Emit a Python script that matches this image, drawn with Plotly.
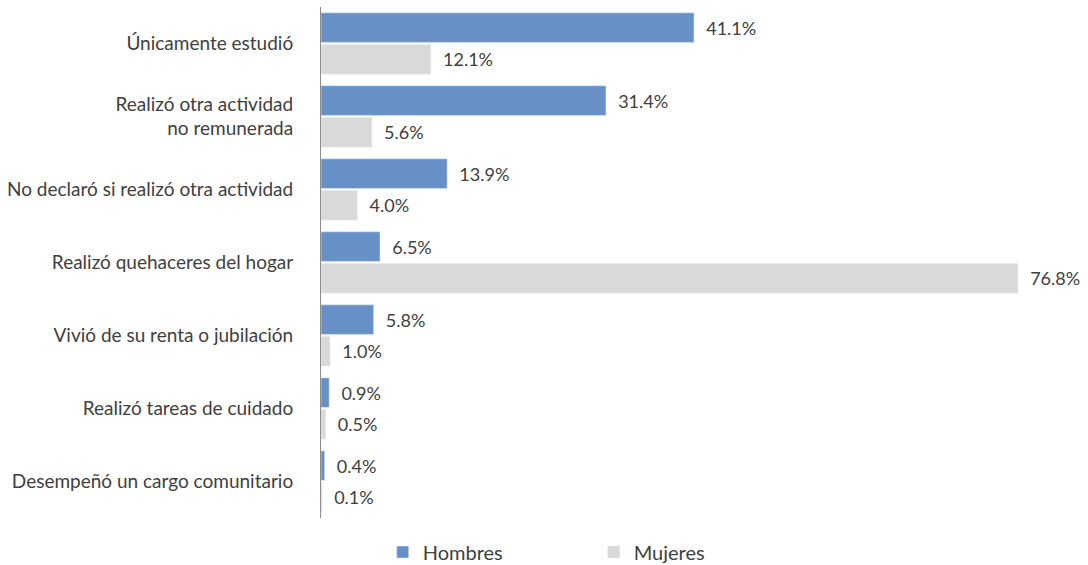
import plotly.graph_objects as go

categories = [
    "Únicamente estudió",
    "Realizó otra actividad<br>no remunerada",
    "No declaró si realizó otra actividad",
    "Realizó quehaceres del hogar",
    "Vivió de su renta o jubilación",
    "Realizó tareas de cuidado",
    "Desempeñó un cargo comunitario",
]
hombres = [41.1, 31.4, 13.9, 6.5, 5.8, 0.9, 0.4]
mujeres = [12.1, 5.6, 4.0, 76.8, 1.0, 0.5, 0.1]

FONT = "Lato"
TXT = "#404040"
pad = "\u00a0\u00a0"

fig = go.Figure()
fig.add_trace(go.Bar(
    y=categories, x=hombres, orientation="h", name="Hombres",
    marker=dict(color="#6690C6"),
    texttemplate=pad + "%{x:.1f}%", textposition="outside",
    textfont=dict(family=FONT, size=18, color=TXT), cliponaxis=False,
))
fig.add_trace(go.Bar(
    y=categories, x=mujeres, orientation="h", name="Mujeres",
    marker=dict(color="#D9D9D9"),
    texttemplate=pad + "%{x:.1f}%", textposition="outside",
    textfont=dict(family=FONT, size=18, color=TXT), cliponaxis=False,
))

fig.update_layout(
    width=1088, height=565,
    margin=dict(l=321, r=41, t=7, b=47, autoexpand=False),
    paper_bgcolor="white", plot_bgcolor="white",
    barmode="group", bargap=0.13, bargroupgap=0.07,
    font=dict(family=FONT, color=TXT),
    xaxis=dict(range=[0, 80], visible=False, showgrid=False, zeroline=False),
    yaxis=dict(autorange="reversed", showgrid=False, zeroline=False,
               showline=True, linecolor="#8c8c8c", linewidth=1,
               ticks="", ticklabelstandoff=23,
               tickfont=dict(family=FONT, size=19, color=TXT)),
    legend=dict(orientation="h", x=0.085, xanchor="left", y=-0.0665, yanchor="middle",
                font=dict(family=FONT, size=20, color=TXT),
                entrywidth=166, entrywidthmode="pixels", traceorder="normal"),
    showlegend=True,
)

fig.write_html("out.html", config={"displayModeBar": False},
               post_script="document.body.style.margin='0';document.body.style.padding='0';")
